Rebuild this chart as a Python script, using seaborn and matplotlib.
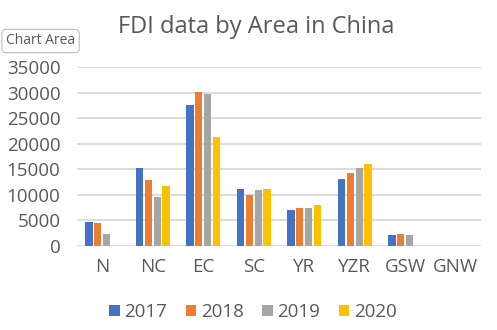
import matplotlib
matplotlib.use("Agg")
import matplotlib.pyplot as plt
import seaborn as sns
import pandas as pd

categories = ["N", "NC", "EC", "SC", "YR", "YZR", "GSW", "GNW"]
years = ["2017", "2018", "2019", "2020"]
v2017 = [4700, 15300, 27600, 11100, 7000, 13100, 2100, 0]
v2018 = [4500, 12900, 30200, 9950, 7400, 14250, 2300, 0]
v2019 = [2300, 9550, 29800, 10900, 7400, 15250, 2100, 0]
v2020 = [0, 11700, 21300, 11100, 8000, 16050, 0, 0]
yticks = [0, 5000, 10000, 15000, 20000, 25000, 30000, 35000]
colors = ["#4472C4", "#ED7D31", "#A5A5A5", "#FFC000"]

rows = []
for yr, vals in zip(years, [v2017, v2018, v2019, v2020]):
    for c, v in zip(categories, vals):
        rows.append({"Area": c, "Year": yr, "FDI": v})
df = pd.DataFrame(rows)

sns.set_theme(style="white")
plt.rcParams['font.family'] = ['Open Sans', 'DejaVu Sans']
txt = "#595959"

fig = plt.figure(figsize=(4.97, 3.30), dpi=100)
ax = fig.add_axes([77/497, 1 - 246/330, (481-77)/497, (246-67)/330])
sns.barplot(data=df, x="Area", y="FDI", hue="Year", palette=colors,
            order=categories, hue_order=years, width=0.7, gap=0.2,
            ax=ax, legend=True, saturation=1, linewidth=0)
ax.set_ylim(0, 35000)
ax.set_yticks(yticks)
ax.set_yticklabels([str(t) for t in yticks])
ax.set_xlim(-0.5, len(categories) - 0.5)
ax.grid(axis="y", color="#D9D9D9", linewidth=1.3)
ax.set_axisbelow(True)
for s in ax.spines.values():
    s.set_visible(False)
ax.tick_params(axis="both", length=0, labelsize=13.5, colors=txt)
ax.tick_params(axis="y", pad=12)
ax.tick_params(axis="x", pad=9)
ax.set_xlabel("")
ax.set_ylabel("")

h, l = ax.get_legend_handles_labels()
ax.legend_.remove()
fig.legend(h, l, loc="center", bbox_to_anchor=(253/497, 1 - 312/330), ncol=4,
           frameon=False, fontsize=13.5, labelcolor=txt, handlelength=0.55,
           handleheight=0.55, handletextpad=0.25, columnspacing=1.0)

fig.text(256/497, 1 - 27/330, "FDI data by Area in China", ha="center", va="center",
         fontsize=17, color=txt)
fig.text(6/497, 1 - 41/330, "Chart Area", ha="left", va="center", fontsize=10,
         color=txt, bbox=dict(boxstyle="round,pad=0.3", fc="white", ec="#BFBFBF", lw=0.8))

fig.savefig("out.png", dpi=100)
